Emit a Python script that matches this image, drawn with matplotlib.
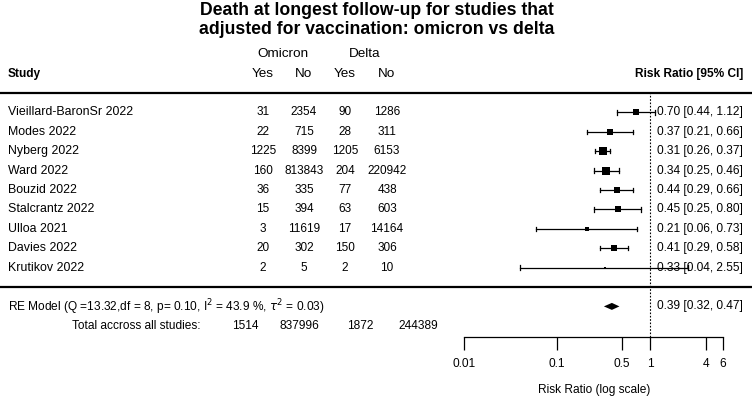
import numpy as np
import matplotlib
matplotlib.use("Agg")
import matplotlib.pyplot as plt
from matplotlib.transforms import blended_transform_factory

plt.rcParams['font.family'] = ['Liberation Sans', 'DejaVu Sans']

# ---------------- data ----------------
studies = ["Vieillard-BaronSr 2022", "Modes 2022", "Nyberg 2022", "Ward 2022",
           "Bouzid 2022", "Stalcrantz 2022", "Ulloa 2021", "Davies 2022", "Krutikov 2022"]
omicron_yes = [31, 22, 1225, 160, 36, 15, 3, 20, 2]
omicron_no = [2354, 715, 8399, 813843, 335, 394, 11619, 302, 5]
delta_yes = [90, 28, 1205, 204, 77, 63, 17, 150, 2]
delta_no = [1286, 311, 6153, 220942, 438, 603, 14164, 306, 10]
rr = [0.70, 0.37, 0.31, 0.34, 0.44, 0.45, 0.21, 0.41, 0.33]
ci_low = [0.44, 0.21, 0.26, 0.25, 0.29, 0.25, 0.06, 0.29, 0.04]
ci_high = [1.12, 0.66, 0.37, 0.46, 0.66, 0.80, 0.73, 0.58, 2.55]
re_est, re_low, re_high = 0.39, 0.32, 0.47
totals = [1514, 837996, 1872, 244389]
xticks = [0.01, 0.1, 0.5, 1, 4, 6]
xtick_labels = ["0.01", "0.1", "0.5", "1", "4", "6"]

# style: box sizes in pixels (weights drawn as square size)
box_px = [5.5, 5.5, 8, 7.5, 6.5, 5.5, 3.5, 6.5, 2.5]

W, H, DPI = 752, 399, 100
fig = plt.figure(figsize=(W / DPI, H / DPI), dpi=DPI)
ax = fig.add_axes([0, 0, 1, 1])
ax.set_xscale('log')

# mapping: pixel x = 650 + 93.2*log10(v); pixel y = 287 - 19.4*row
px1, dec = 650.0, 93.2
ax.set_xlim(10 ** (-px1 / dec), 10 ** ((W - px1) / dec))
p0, s = 287.0, 19.4
ax.set_ylim(-(H - p0) / s, p0 / s)

k = len(studies)
rows = np.arange(k, 0, -1)
fs = 8.6
fh = 9.7

tb = blended_transform_factory(ax.transAxes, ax.transData)
def fx(px):
    return px / W

# title
fig.text(377 / W, 1 - 15 / H, "Death at longest follow-up for studies that",
         ha='center', va='baseline', fontsize=12.7, fontweight='bold')
fig.text(377 / W, 1 - 34.5 / H, "adjusted for vaccination: omicron vs delta",
         ha='center', va='baseline', fontsize=12.7, fontweight='bold')

# headers
col_x = [263, 304, 345, 387]
ax.text(fx(8), k + 2, "Study", transform=tb, ha='left', va='center', fontsize=fs, fontweight='bold')
ax.text(fx(283), k + 3, "Omicron", transform=tb, ha='center', va='center', fontsize=fh)
ax.text(fx(365), k + 3, "Delta", transform=tb, ha='center', va='center', fontsize=fh)
for cx, lab in zip(col_x, ["Yes", "No", "Yes", "No"]):
    ax.text(fx(cx), k + 2, lab, transform=tb, ha='center', va='center', fontsize=fh)
ax.text(fx(743), k + 2, "Risk Ratio [95% CI]", transform=tb, ha='right', va='center',
        fontsize=fs, fontweight='bold')

# horizontal rules
ax.axhline(k + 1, color='black', lw=1.6)
ax.axhline(0, color='black', lw=1.6)

# reference line at 1
ax_y = -2.6
ax.plot([1, 1], [ax_y, k + 1], color='black', lw=0.8, ls=(0, (1.5, 1.5)))

# study rows
for i, r in enumerate(rows):
    ax.text(fx(8), r, studies[i], transform=tb, ha='left', va='center', fontsize=8.9)
    for cx, v in zip(col_x, [omicron_yes[i], omicron_no[i], delta_yes[i], delta_no[i]]):
        ax.text(fx(cx), r, str(v), transform=tb, ha='center', va='center', fontsize=8.5)
    ax.plot([ci_low[i], ci_high[i]], [r, r], color='black', lw=0.9)
    ax.plot([ci_low[i], ci_low[i]], [r - 0.11, r + 0.11], color='black', lw=0.9)
    ax.plot([ci_high[i], ci_high[i]], [r - 0.11, r + 0.11], color='black', lw=0.9)
    ax.plot([rr[i]], [r], marker='s', color='black', markersize=box_px[i] * 72 / DPI, mew=0)
    ax.text(fx(743), r, f"{rr[i]:.2f} [{ci_low[i]:.2f}, {ci_high[i]:.2f}]", transform=tb,
            ha='right', va='center', fontsize=8.6)

# RE model
ax.text(fx(8), -1.05, r"RE Model (Q =13.32,df = 8, p= 0.10, I$^2$ = 43.9 %, $\tau^2$ = 0.03)",
        transform=tb, ha='left', va='center', fontsize=fs)
h = 0.18
ax.fill([re_low, re_est, re_high, re_est], [-1, -1 + h, -1, -1 - h], color='black', lw=0)
ax.text(fx(743), -1, f"{re_est:.2f} [{re_low:.2f}, {re_high:.2f}]", transform=tb,
        ha='right', va='center', fontsize=8.6)

# totals
ax.text(fx(200), -2, "Total accross all studies:", transform=tb, ha='right', va='center', fontsize=fs)
for cx, v in zip([245, 299, 360, 418], totals):
    ax.text(fx(cx), -2, str(v), transform=tb, ha='center', va='center', fontsize=fs)

# x axis
for sp in ['top', 'right', 'left']:
    ax.spines[sp].set_visible(False)
ax.spines['bottom'].set_position(('data', ax_y))
ax.spines['bottom'].set_bounds(xticks[0], xticks[-1])
ax.spines['bottom'].set_linewidth(0.9)
ax.set_xticks(xticks)
ax.set_xticklabels(xtick_labels)
ax.minorticks_off()
ax.tick_params(axis='x', direction='out', length=9, width=0.9, pad=6, labelsize=8.6)
ax.set_yticks([])
ax.text(594 / W, -5.3, "Risk Ratio (log scale)", transform=tb, ha='center', va='center',
        fontsize=8.6)

fig.savefig("out.png", dpi=DPI)
